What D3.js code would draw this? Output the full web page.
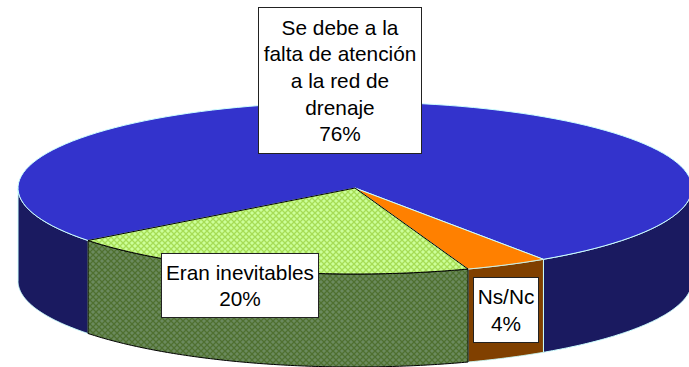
<!DOCTYPE html>
<html><head><meta charset="utf-8">
<script src="https://cdn.jsdelivr.net/npm/d3@7/dist/d3.min.js"></script>
<style>html,body{margin:0;padding:0;background:#fff}svg{display:block}</style></head>
<body><script>
const categories = ["Ns/Nc", "Eran inevitables", "Se debe a la falta de atención a la red de drenaje"];
const values = [4, 20, 76];
const labelLines = [["Ns/Nc","4%"],["Eran inevitables","20%"],["Se debe a la","falta de atención","a la red de","drenaje","76%"]];
const labelBoxes = [[473,277,538,342],[161,253,318,317],[258,7,421,153]];
const topColors = ["#ff8000","url(#gTop)","#3333cc"];
const sideColors = ["#804000","url(#gSide)","#1a1a60"];
const edgeColors = ["#ccffff","#000000","#ccffff"];

const W=689,H=367,cx=355,cy=188,rx=337,ry=86,depth=93;
const svg=d3.select("body").append("svg").attr("width",W).attr("height",H);
const defs=svg.append("defs");
function pat(id,bg,fg){
  const p=defs.append("pattern").attr("id",id).attr("patternUnits","userSpaceOnUse").attr("width",6).attr("height",6);
  p.append("rect").attr("width",6).attr("height",6).attr("fill",bg);
  p.append("path").attr("d","M0,0L6,6M6,0L0,6").attr("stroke",fg).attr("stroke-width",1.3);
}
pat("gTop","#ccff99","#a6dc55");
pat("gSide","#6b8a5e","#4f7030");

const xS=d3.scaleLinear().domain([-1,1]).range([cx-rx,cx+rx]);
const yS=d3.scaleLinear().domain([-1,1]).range([cy-ry,cy+ry]);
const start=146*Math.PI/180;
const arcs=d3.pie().sort(null).startAngle(start).endAngle(start+2*Math.PI)(values);
const pt=(a,dz=0)=>[xS(Math.sin(a)),yS(-Math.cos(a))+dz];
const samp=(a0,a1,dz=0)=>d3.range(0,121).map(i=>pt(a0+(a1-a0)*i/120,dz));
const line=d3.line();

const g=svg.append("g");
// side walls: blue, then orange, then green so the black edges stay on top
[2,0,1].forEach(i=>{
  const d=arcs[i];
  const lo=Math.PI/2, hi=3*Math.PI/2;
  [0,2*Math.PI].forEach(sh=>{
    const a0=Math.max(d.startAngle,lo+sh), a1=Math.min(d.endAngle,hi+sh);
    if(a1<=a0) return;
    const up=samp(a0,a1), dn=samp(a1,a0,depth);
    g.append("path").attr("d",line(up.concat(dn))+"Z").attr("fill",sideColors[i])
      .attr("stroke",edgeColors[i]).attr("stroke-width",1);
  });
});
// top faces
[2,0,1].forEach(i=>{
  const d=arcs[i];
  const ring=samp(d.startAngle,d.endAngle);
  g.append("path").attr("d",line([[cx,cy]].concat(ring))+"Z").attr("fill",topColors[i])
    .attr("stroke",edgeColors[i]).attr("stroke-width",1);
});
// labels
labelBoxes.forEach((b,i)=>{
  const lab=svg.append("g");
  lab.append("rect").attr("x",b[0]+.5).attr("y",b[1]+.5).attr("width",b[2]-b[0]).attr("height",b[3]-b[1])
    .attr("fill","#fff").attr("stroke","#222").attr("stroke-width",1);
  const lines=labelLines[i], lh=26.6, mid=(b[1]+b[3])/2+.5;
  lines.forEach((t,j)=>lab.append("text").text(t).attr("x",(b[0]+b[2])/2+.5)
    .attr("y",mid+(j-(lines.length-1)/2)*lh+7.5).attr("text-anchor","middle")
    .attr("font-family","'Liberation Sans',Arial,sans-serif").attr("font-size",20.8).attr("fill","#000"));
});
</script></body></html>
